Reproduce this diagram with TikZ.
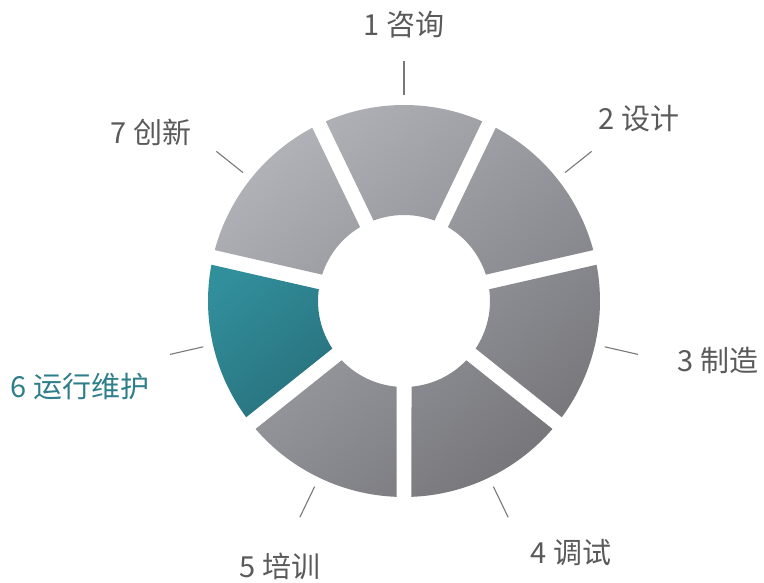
\documentclass[tikz,border=0pt]{standalone}
\usepackage{fontspec}
\setmainfont{Noto Sans CJK SC}
\definecolor{lightg}{RGB}{176,178,184}
\definecolor{darkg}{RGB}{118,118,123}
\definecolor{tealA}{RGB}{49,142,155}
\definecolor{tealB}{RGB}{40,114,125}
\definecolor{labelg}{RGB}{90,90,90}
\definecolor{labelt}{RGB}{47,127,138}
\definecolor{tickg}{RGB}{120,120,120}
\tikzset{
  lbl/.style={font=\fontsize{29}{33}\selectfont, text=labelg, inner sep=0pt},
  tick/.style={draw=tickg, line width=1.1pt},
}
\begin{document}
\begin{tikzpicture}[x=1pt,y=1pt]
\useasboundingbox (0,0) rectangle (764,582);
\pgfmathsetmacro\go{asin(7.5/196)}
\pgfmathsetmacro\gi{asin(7.5/86)}
\def\R{196}\def\r{86}
\begin{scope}[shift={(404,281)}]
  % gray segments with one global gradient
  \begin{scope}
    \clip \foreach \k [evaluate=\k as \c using 90-(\k-1)*360/7] in {1,2,3,4,5,7} {
      ({\c-25.7143+\go}:\R) arc[start angle={\c-25.7143+\go}, end angle={\c+25.7143-\go}, radius=\R]
      -- ({\c+25.7143-\gi}:\r) arc[start angle={\c+25.7143-\gi}, end angle={\c-25.7143+\gi}, radius=\r] -- cycle
    };
    \shade[top color=lightg, bottom color=darkg, shading angle=40] (-200,-200) rectangle (200,200);
  \end{scope}
  % teal segment 6
  \pgfmathsetmacro\c{90-5*360/7}
  \shade[top color=tealA, bottom color=tealB, shading angle=40]
      ({\c-25.7143+\go}:\R) arc[start angle={\c-25.7143+\go}, end angle={\c+25.7143-\go}, radius=\R]
      -- ({\c+25.7143-\gi}:\r) arc[start angle={\c+25.7143-\gi}, end angle={\c-25.7143+\gi}, radius=\r] -- cycle;
  % ticks
  \foreach \k [evaluate=\k as \c using 90-(\k-1)*360/7] in {1,...,7} {
    \coordinate (ta\k) at (\c:206);
    \coordinate (tb\k) at (\c:240);
    \draw[tick] (ta\k) -- (tb\k);
  }
\end{scope}
% labels
\node[lbl] (l1) at (404,557) {1 咨询};
\node[lbl] (l2) at (639,463) {2 设计};
\node[lbl] (l3) at (718,222) {3 制造};
\node[lbl] (l4) at (571,29) {4 调试};
\node[lbl] (l5) at (280,16) {5 培训};
\node[lbl, text=labelt] (l6) at (80,195) {6 运行维护};
\node[lbl] (l7) at (151,450) {7 创新};
\end{tikzpicture}
\end{document}
